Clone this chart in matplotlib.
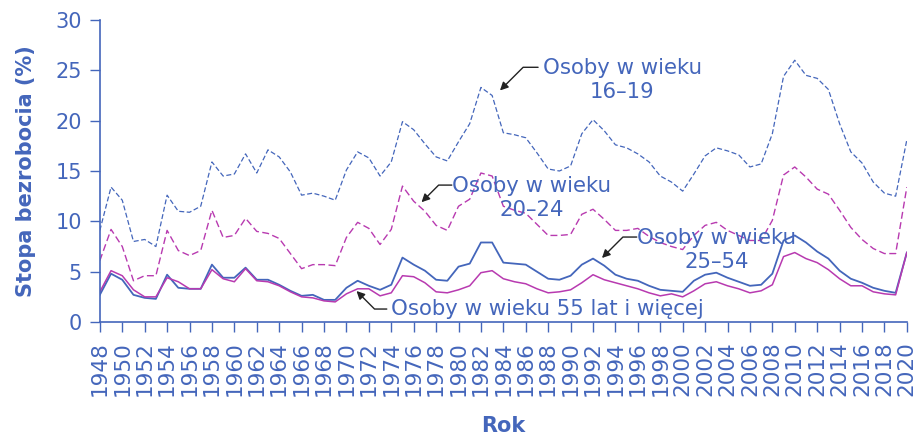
import matplotlib.pyplot as plt
import numpy as np

# lata i stopy bezrobocia
years = np.arange(1948, 2021)

age_16_19 = [9.1, 13.4, 12.1, 8.0, 8.2, 7.5, 12.6, 11.0, 10.9, 11.5,
             15.9, 14.5, 14.7, 16.7, 14.8, 17.1, 16.4, 14.9, 12.6, 12.8,
             12.5, 12.1, 15.1, 16.9, 16.3, 14.5, 15.9, 19.9, 19.1, 17.7,
             16.4, 16.0, 17.9, 19.7, 23.3, 22.5, 18.8, 18.6, 18.3, 16.8,
             15.2, 15.0, 15.5, 18.7, 20.1, 19.0, 17.6, 17.3, 16.7, 15.9,
             14.5, 13.9, 13.0, 14.7, 16.5, 17.3, 17.0, 16.6, 15.4, 15.7,
             18.7, 24.4, 26.0, 24.5, 24.2, 23.1, 19.7, 16.9, 15.8, 13.9,
             12.8, 12.5, 18.1]

age_20_24 = [6.1, 9.2, 7.5, 4.1, 4.6, 4.6, 9.1, 7.1, 6.6, 7.1,
             11.1, 8.4, 8.6, 10.3, 9.0, 8.8, 8.3, 6.8, 5.3, 5.7,
             5.7, 5.6, 8.4, 9.9, 9.3, 7.7, 9.2, 13.5, 12.0, 11.0,
             9.6, 9.1, 11.5, 12.2, 14.8, 14.5, 11.5, 11.1, 10.8, 9.7,
             8.6, 8.6, 8.7, 10.7, 11.2, 10.2, 9.1, 9.1, 9.3, 8.5,
             7.9, 7.5, 7.2, 8.6, 9.6, 9.9, 9.1, 8.6, 8.1, 8.1,
             10.1, 14.6, 15.4, 14.4, 13.2, 12.7, 11.1, 9.4, 8.2, 7.3,
             6.8, 6.8, 13.4]

age_25_54 = [2.7, 4.8, 4.2, 2.7, 2.4, 2.3, 4.7, 3.4, 3.3, 3.3,
             5.7, 4.4, 4.4, 5.4, 4.2, 4.2, 3.7, 3.1, 2.6, 2.7,
             2.2, 2.2, 3.4, 4.1, 3.6, 3.2, 3.7, 6.4, 5.7, 5.1,
             4.2, 4.1, 5.5, 5.8, 7.9, 7.9, 5.9, 5.8, 5.7, 5.0,
             4.3, 4.2, 4.6, 5.7, 6.3, 5.6, 4.7, 4.3, 4.1, 3.6,
             3.2, 3.1, 3.0, 4.1, 4.7, 4.9, 4.4, 4.0, 3.6, 3.7,
             4.8, 8.1, 8.6, 7.9, 7.0, 6.3, 5.1, 4.3, 3.9, 3.4,
             3.1, 2.9, 6.9]

age_55 = [3.0, 5.1, 4.6, 3.2, 2.5, 2.5, 4.4, 4.0, 3.3, 3.3,
          5.2, 4.3, 4.0, 5.3, 4.1, 4.0, 3.6, 3.0, 2.5, 2.4,
          2.1, 2.0, 2.8, 3.3, 3.3, 2.6, 2.9, 4.6, 4.5, 3.9,
          3.0, 2.9, 3.2, 3.6, 4.9, 5.1, 4.3, 4.0, 3.8, 3.3,
          2.9, 3.0, 3.2, 3.9, 4.7, 4.2, 3.9, 3.6, 3.3, 2.9,
          2.6, 2.8, 2.5, 3.1, 3.8, 4.0, 3.6, 3.3, 2.9, 3.1,
          3.7, 6.5, 6.9, 6.3, 5.9, 5.2, 4.3, 3.6, 3.6, 3.0,
          2.8, 2.7, 6.9]

blue = '#4466bb'
purple = '#b83ab0'

fig = plt.figure(figsize=(9.16, 4.34), dpi=100)
ax = fig.add_axes([0.109, 0.258, 0.881, 0.696])

ax.plot(years, age_16_19, color=blue, lw=0.9, dashes=(4, 2))
ax.plot(years, age_20_24, color=purple, lw=1.0, dashes=(5, 2.5))
ax.plot(years, age_25_54, color=blue, lw=1.3)
ax.plot(years, age_55, color=purple, lw=1.1)

ax.set_xlim(1948, 2020)
ax.set_ylim(0, 30)
ax.set_xticks(np.arange(1948, 2021, 2))
ax.set_yticks(np.arange(0, 31, 5))
ax.tick_params(axis='x', colors=blue, length=7, width=1, rotation=90, pad=7)
ax.tick_params(axis='y', colors=blue, labelsize=15, length=7, width=1, pad=6)
for t in ax.get_xticklabels():
    t.set_family(['DejaVu Sans Condensed', 'DejaVu Sans'])
    t.set_fontsize(15.5)
for s in ['top', 'right']:
    ax.spines[s].set_visible(False)
for s in ['left', 'bottom']:
    ax.spines[s].set_color(blue)
    ax.spines[s].set_linewidth(1.2)

ax.set_ylabel('Stopa bezrobocia (%)', color=blue, fontsize=15,
              fontweight='bold', labelpad=14)
ax.set_xlabel('Rok', color=blue, fontsize=15, fontweight='bold', labelpad=14)

arrow = dict(arrowstyle='-|>', color='#222222', lw=1.0, mutation_scale=12,
             shrinkA=0, shrinkB=0)

def label(txt, tx, ty, start, head, angle, ha='center'):
    ax.text(tx, ty, txt, color=blue, fontsize=15.3, ha=ha, va='center',
            multialignment='center', linespacing=1.25)
    ax.annotate('', xy=head, xytext=start,
                arrowprops=dict(arrow, connectionstyle='angle,angleA=0,angleB=%d,rad=0' % angle))

label('Osoby w wieku\n16–19', 1994.6, 24.0, (1987.1, 25.3), (1983.7, 23.0), 45)
label('Osoby w wieku\n20–24', 1986.5, 12.3, (1979.4, 13.6), (1976.7, 11.9), 45)
label('Osoby w wieku\n25–54', 2003.0, 7.15, (1995.9, 8.44), (1992.8, 6.36), 45)
label('Osoby w wieku 55 lat i więcej', 1974.0, 1.25, (1973.6, 1.29),
      (1970.9, 3.08), -45, ha='left')

fig.savefig('out.png', dpi=100)
